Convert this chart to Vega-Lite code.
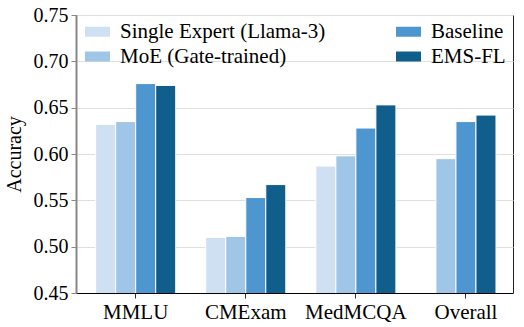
{
  "$schema": "https://vega.github.io/schema/vega-lite/v6.json",
  "width": 437,
  "height": 278,
  "autosize": {"type": "none"},
  "padding": {"left": 76, "top": 15, "right": 11, "bottom": 34},
  "config": {
    "font": "Liberation Serif",
    "view": {"stroke": "#222222", "strokeWidth": 1},
    "axis": {"labelFont": "Liberation Serif", "titleFont": "Liberation Serif", "labelColor": "#000000", "titleColor": "#000000", "labelFontSize": 20, "titleFontSize": 20, "titleFontWeight": "normal"},
    "legend": {"labelFont": "Liberation Serif", "labelFontSize": 21, "labelColor": "#000000", "labelLimit": 400}
  },
  "data": {
    "values": [
      {"dataset": "MMLU", "method": "Single Expert (Llama-3)", "acc": 0.632},
      {"dataset": "MMLU", "method": "MoE (Gate-trained)", "acc": 0.635},
      {"dataset": "MMLU", "method": "Baseline", "acc": 0.676},
      {"dataset": "MMLU", "method": "EMS-FL", "acc": 0.674},
      {"dataset": "CMExam", "method": "Single Expert (Llama-3)", "acc": 0.510},
      {"dataset": "CMExam", "method": "MoE (Gate-trained)", "acc": 0.511},
      {"dataset": "CMExam", "method": "Baseline", "acc": 0.553},
      {"dataset": "CMExam", "method": "EMS-FL", "acc": 0.567},
      {"dataset": "MedMCQA", "method": "Single Expert (Llama-3)", "acc": 0.587},
      {"dataset": "MedMCQA", "method": "MoE (Gate-trained)", "acc": 0.598},
      {"dataset": "MedMCQA", "method": "Baseline", "acc": 0.628},
      {"dataset": "MedMCQA", "method": "EMS-FL", "acc": 0.653},
      {"dataset": "Overall", "method": "MoE (Gate-trained)", "acc": 0.595},
      {"dataset": "Overall", "method": "Baseline", "acc": 0.635},
      {"dataset": "Overall", "method": "EMS-FL", "acc": 0.642}
    ]
  },
  "encoding": {
    "x": {
      "field": "dataset", "type": "nominal", "sort": ["MMLU", "CMExam", "MedMCQA", "Overall"],
      "scale": {"paddingInner": 0.2727, "paddingOuter": 0.121, "align": 0.737},
      "axis": {"title": null, "labelAngle": 0, "labelFontSize": 21, "domainColor": "#000000", "domainWidth": 1.2, "tickColor": "#333333", "tickSize": 5, "labelPadding": 3, "grid": false}
    },
    "y": {
      "field": "acc", "type": "quantitative",
      "scale": {"domain": [0.45, 0.75], "nice": false, "zero": false},
      "axis": {"title": "Accuracy", "values": [0.45, 0.5, 0.55, 0.6, 0.65, 0.7, 0.75], "format": ".2f", "domainColor": "#888888", "domainWidth": 2, "tickColor": "#888888", "tickSize": 5, "labelPadding": 3, "gridColor": "#e0e0e0", "gridWidth": 1, "titlePadding": 9}
    },
    "color": {
      "field": "method", "type": "nominal",
      "scale": {
        "domain": ["Single Expert (Llama-3)", "MoE (Gate-trained)", "Baseline", "EMS-FL"],
        "range": ["#cfe0f2", "#9fc6e6", "#4e96cf", "#0f5e8c"]
      },
      "legend": {
        "title": null, "orient": "none", "legendX": 9, "legendY": 4, "columns": 2, "columnPadding": 70, "rowPadding": 2,
        "symbolType": "M-1,-0.4H1V0.4H-1Z", "symbolSize": 625, "symbolStrokeWidth": 0, "symbolOpacity": 1, "labelOffset": 10, "padding": 0
      }
    }
  },
  "layer": [
    {
      "transform": [{"filter": "datum.dataset != 'Overall'"}],
      "mark": {"type": "bar", "stroke": "#ffffff", "strokeWidth": 1, "clip": true},
      "encoding": {
        "xOffset": {"field": "method", "type": "nominal", "sort": ["Single Expert (Llama-3)", "MoE (Gate-trained)", "Baseline", "EMS-FL"], "scale": {"paddingInner": 0, "paddingOuter": 0}}
      }
    },
    {
      "transform": [{"filter": "datum.dataset == 'Overall'"}],
      "mark": {"type": "bar", "stroke": "#ffffff", "strokeWidth": 1, "clip": true},
      "encoding": {
        "xOffset": {"field": "method", "type": "nominal", "sort": ["MoE (Gate-trained)", "Baseline", "EMS-FL"], "scale": {"paddingInner": 0, "paddingOuter": 0.5}}
      }
    }
  ],
  "resolve": {"scale": {"xOffset": "independent"}}
}
